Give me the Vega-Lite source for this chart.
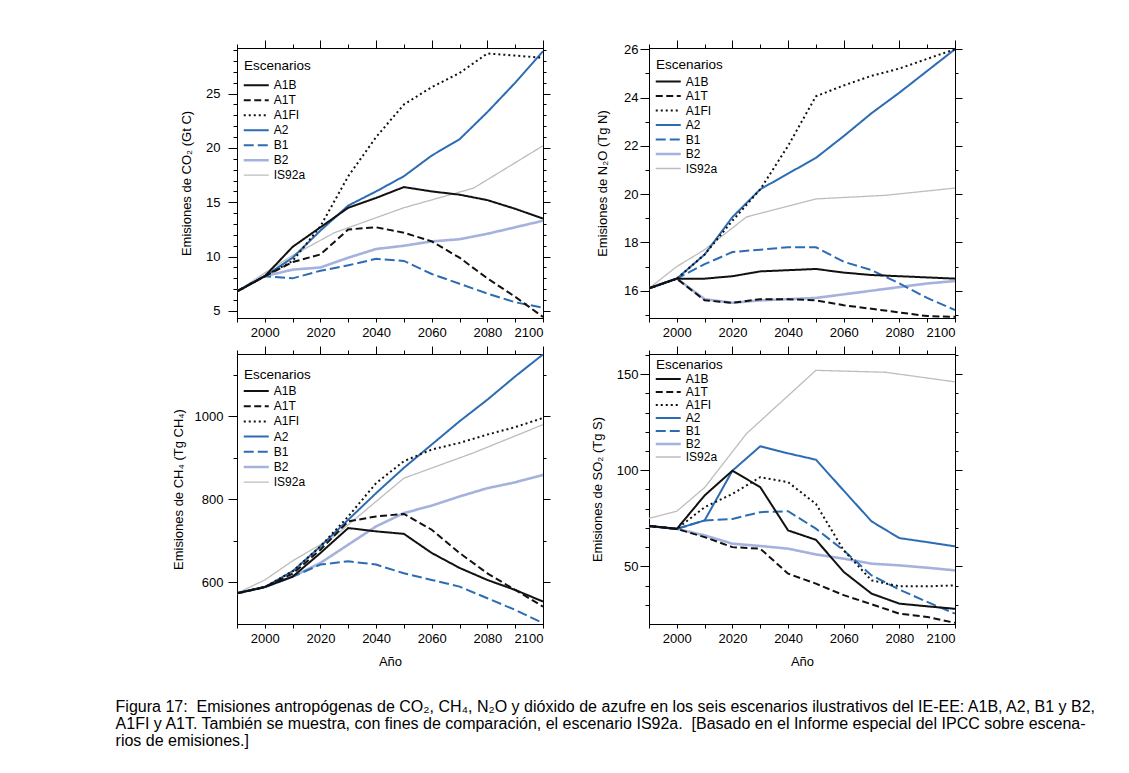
{
  "$schema": "https://vega.github.io/schema/vega-lite/v6.json",
  "background": "white",
  "padding": {"left": 115, "top": 39, "right": 5, "bottom": 5},
  "datasets": {
    "co2": [
      {"year":1990,"scenario":"IS92a","value":6.8},{"year":2000,"scenario":"IS92a","value":8.5},{"year":2010,"scenario":"IS92a","value":10.1},{"year":2025,"scenario":"IS92a","value":12.2},{"year":2050,"scenario":"IS92a","value":14.5},{"year":2075,"scenario":"IS92a","value":16.3},{"year":2100,"scenario":"IS92a","value":20.2},
      {"year":1990,"scenario":"B2","value":6.8},{"year":2000,"scenario":"B2","value":8.2},{"year":2010,"scenario":"B2","value":8.8},{"year":2020,"scenario":"B2","value":9.0},{"year":2030,"scenario":"B2","value":9.9},{"year":2040,"scenario":"B2","value":10.7},{"year":2050,"scenario":"B2","value":11.0},{"year":2060,"scenario":"B2","value":11.4},{"year":2070,"scenario":"B2","value":11.6},{"year":2080,"scenario":"B2","value":12.1},{"year":2090,"scenario":"B2","value":12.7},{"year":2100,"scenario":"B2","value":13.3},
      {"year":1990,"scenario":"B1","value":6.8},{"year":2000,"scenario":"B1","value":8.2},{"year":2010,"scenario":"B1","value":8.0},{"year":2020,"scenario":"B1","value":8.7},{"year":2030,"scenario":"B1","value":9.2},{"year":2040,"scenario":"B1","value":9.8},{"year":2050,"scenario":"B1","value":9.6},{"year":2060,"scenario":"B1","value":8.4},{"year":2070,"scenario":"B1","value":7.5},{"year":2080,"scenario":"B1","value":6.6},{"year":2090,"scenario":"B1","value":5.8},{"year":2100,"scenario":"B1","value":5.3},
      {"year":1990,"scenario":"A2","value":6.8},{"year":2000,"scenario":"A2","value":8.2},{"year":2010,"scenario":"A2","value":9.9},{"year":2020,"scenario":"A2","value":12.4},{"year":2030,"scenario":"A2","value":14.7},{"year":2040,"scenario":"A2","value":16.0},{"year":2050,"scenario":"A2","value":17.4},{"year":2060,"scenario":"A2","value":19.3},{"year":2070,"scenario":"A2","value":20.8},{"year":2080,"scenario":"A2","value":23.3},{"year":2090,"scenario":"A2","value":26.0},{"year":2100,"scenario":"A2","value":28.9},
      {"year":1990,"scenario":"A1FI","value":6.8},{"year":2000,"scenario":"A1FI","value":8.2},{"year":2010,"scenario":"A1FI","value":9.6},{"year":2020,"scenario":"A1FI","value":12.8},{"year":2030,"scenario":"A1FI","value":17.4},{"year":2040,"scenario":"A1FI","value":21.0},{"year":2050,"scenario":"A1FI","value":24.0},{"year":2060,"scenario":"A1FI","value":25.6},{"year":2070,"scenario":"A1FI","value":26.9},{"year":2080,"scenario":"A1FI","value":28.7},{"year":2090,"scenario":"A1FI","value":28.5},{"year":2100,"scenario":"A1FI","value":28.3},
      {"year":1990,"scenario":"A1T","value":6.8},{"year":2000,"scenario":"A1T","value":8.2},{"year":2010,"scenario":"A1T","value":9.5},{"year":2020,"scenario":"A1T","value":10.2},{"year":2030,"scenario":"A1T","value":12.5},{"year":2040,"scenario":"A1T","value":12.7},{"year":2050,"scenario":"A1T","value":12.2},{"year":2060,"scenario":"A1T","value":11.4},{"year":2070,"scenario":"A1T","value":9.9},{"year":2080,"scenario":"A1T","value":8.0},{"year":2090,"scenario":"A1T","value":6.3},{"year":2100,"scenario":"A1T","value":4.45},
      {"year":1990,"scenario":"A1B","value":6.8},{"year":2000,"scenario":"A1B","value":8.2},{"year":2010,"scenario":"A1B","value":10.9},{"year":2020,"scenario":"A1B","value":12.7},{"year":2030,"scenario":"A1B","value":14.5},{"year":2040,"scenario":"A1B","value":15.4},{"year":2050,"scenario":"A1B","value":16.4},{"year":2060,"scenario":"A1B","value":16.0},{"year":2070,"scenario":"A1B","value":15.7},{"year":2080,"scenario":"A1B","value":15.2},{"year":2090,"scenario":"A1B","value":14.4},{"year":2100,"scenario":"A1B","value":13.5}
    ],
    "n2o": [
      {"year":1990,"scenario":"IS92a","value":16.1},{"year":2000,"scenario":"IS92a","value":17.0},{"year":2010,"scenario":"IS92a","value":17.7},{"year":2025,"scenario":"IS92a","value":19.05},{"year":2050,"scenario":"IS92a","value":19.8},{"year":2075,"scenario":"IS92a","value":19.95},{"year":2100,"scenario":"IS92a","value":20.25},
      {"year":1990,"scenario":"B2","value":16.1},{"year":2000,"scenario":"B2","value":16.5},{"year":2010,"scenario":"B2","value":15.65},{"year":2020,"scenario":"B2","value":15.5},{"year":2030,"scenario":"B2","value":15.6},{"year":2040,"scenario":"B2","value":15.65},{"year":2050,"scenario":"B2","value":15.7},{"year":2060,"scenario":"B2","value":15.85},{"year":2070,"scenario":"B2","value":16.0},{"year":2080,"scenario":"B2","value":16.15},{"year":2090,"scenario":"B2","value":16.3},{"year":2100,"scenario":"B2","value":16.4},
      {"year":1990,"scenario":"B1","value":16.1},{"year":2000,"scenario":"B1","value":16.5},{"year":2010,"scenario":"B1","value":17.1},{"year":2020,"scenario":"B1","value":17.6},{"year":2030,"scenario":"B1","value":17.7},{"year":2040,"scenario":"B1","value":17.8},{"year":2050,"scenario":"B1","value":17.8},{"year":2060,"scenario":"B1","value":17.2},{"year":2070,"scenario":"B1","value":16.85},{"year":2080,"scenario":"B1","value":16.3},{"year":2090,"scenario":"B1","value":15.7},{"year":2100,"scenario":"B1","value":15.2},
      {"year":1990,"scenario":"A2","value":16.1},{"year":2000,"scenario":"A2","value":16.5},{"year":2010,"scenario":"A2","value":17.5},{"year":2020,"scenario":"A2","value":19.05},{"year":2030,"scenario":"A2","value":20.2},{"year":2040,"scenario":"A2","value":20.85},{"year":2050,"scenario":"A2","value":21.5},{"year":2060,"scenario":"A2","value":22.4},{"year":2070,"scenario":"A2","value":23.35},{"year":2080,"scenario":"A2","value":24.2},{"year":2090,"scenario":"A2","value":25.1},{"year":2100,"scenario":"A2","value":26.0},
      {"year":1990,"scenario":"A1FI","value":16.1},{"year":2000,"scenario":"A1FI","value":16.5},{"year":2010,"scenario":"A1FI","value":17.5},{"year":2020,"scenario":"A1FI","value":18.9},{"year":2030,"scenario":"A1FI","value":20.2},{"year":2040,"scenario":"A1FI","value":22.0},{"year":2050,"scenario":"A1FI","value":24.05},{"year":2060,"scenario":"A1FI","value":24.5},{"year":2070,"scenario":"A1FI","value":24.9},{"year":2080,"scenario":"A1FI","value":25.2},{"year":2090,"scenario":"A1FI","value":25.6},{"year":2100,"scenario":"A1FI","value":26.0},
      {"year":1990,"scenario":"A1T","value":16.1},{"year":2000,"scenario":"A1T","value":16.5},{"year":2010,"scenario":"A1T","value":15.6},{"year":2020,"scenario":"A1T","value":15.5},{"year":2030,"scenario":"A1T","value":15.65},{"year":2040,"scenario":"A1T","value":15.65},{"year":2050,"scenario":"A1T","value":15.6},{"year":2060,"scenario":"A1T","value":15.4},{"year":2070,"scenario":"A1T","value":15.25},{"year":2080,"scenario":"A1T","value":15.1},{"year":2090,"scenario":"A1T","value":14.95},{"year":2100,"scenario":"A1T","value":14.92},
      {"year":1990,"scenario":"A1B","value":16.1},{"year":2000,"scenario":"A1B","value":16.5},{"year":2010,"scenario":"A1B","value":16.5},{"year":2020,"scenario":"A1B","value":16.6},{"year":2030,"scenario":"A1B","value":16.8},{"year":2040,"scenario":"A1B","value":16.85},{"year":2050,"scenario":"A1B","value":16.9},{"year":2060,"scenario":"A1B","value":16.75},{"year":2070,"scenario":"A1B","value":16.65},{"year":2080,"scenario":"A1B","value":16.6},{"year":2090,"scenario":"A1B","value":16.55},{"year":2100,"scenario":"A1B","value":16.5}
    ],
    "ch4": [
      {"year":1990,"scenario":"IS92a","value":574},{"year":2000,"scenario":"IS92a","value":606},{"year":2010,"scenario":"IS92a","value":652},{"year":2025,"scenario":"IS92a","value":711},{"year":2050,"scenario":"IS92a","value":851},{"year":2075,"scenario":"IS92a","value":912},{"year":2100,"scenario":"IS92a","value":980},
      {"year":1990,"scenario":"B2","value":574},{"year":2000,"scenario":"B2","value":589},{"year":2010,"scenario":"B2","value":614},{"year":2020,"scenario":"B2","value":647},{"year":2030,"scenario":"B2","value":691},{"year":2040,"scenario":"B2","value":735},{"year":2050,"scenario":"B2","value":767},{"year":2060,"scenario":"B2","value":785},{"year":2070,"scenario":"B2","value":807},{"year":2080,"scenario":"B2","value":827},{"year":2090,"scenario":"B2","value":841},{"year":2100,"scenario":"B2","value":859},
      {"year":1990,"scenario":"B1","value":574},{"year":2000,"scenario":"B1","value":589},{"year":2010,"scenario":"B1","value":614},{"year":2020,"scenario":"B1","value":643},{"year":2030,"scenario":"B1","value":651},{"year":2040,"scenario":"B1","value":643},{"year":2050,"scenario":"B1","value":622},{"year":2060,"scenario":"B1","value":606},{"year":2070,"scenario":"B1","value":590},{"year":2080,"scenario":"B1","value":562},{"year":2090,"scenario":"B1","value":534},{"year":2100,"scenario":"B1","value":502},
      {"year":1990,"scenario":"A2","value":574},{"year":2000,"scenario":"A2","value":589},{"year":2010,"scenario":"A2","value":627},{"year":2020,"scenario":"A2","value":687},{"year":2030,"scenario":"A2","value":751},{"year":2040,"scenario":"A2","value":815},{"year":2050,"scenario":"A2","value":876},{"year":2060,"scenario":"A2","value":932},{"year":2070,"scenario":"A2","value":988},{"year":2080,"scenario":"A2","value":1040},{"year":2090,"scenario":"A2","value":1096},{"year":2100,"scenario":"A2","value":1149},
      {"year":1990,"scenario":"A1FI","value":574},{"year":2000,"scenario":"A1FI","value":589},{"year":2010,"scenario":"A1FI","value":627},{"year":2020,"scenario":"A1FI","value":687},{"year":2030,"scenario":"A1FI","value":759},{"year":2040,"scenario":"A1FI","value":839},{"year":2050,"scenario":"A1FI","value":892},{"year":2060,"scenario":"A1FI","value":920},{"year":2070,"scenario":"A1FI","value":936},{"year":2080,"scenario":"A1FI","value":956},{"year":2090,"scenario":"A1FI","value":974},{"year":2100,"scenario":"A1FI","value":996},
      {"year":1990,"scenario":"A1T","value":574},{"year":2000,"scenario":"A1T","value":589},{"year":2010,"scenario":"A1T","value":621},{"year":2020,"scenario":"A1T","value":679},{"year":2030,"scenario":"A1T","value":747},{"year":2040,"scenario":"A1T","value":759},{"year":2050,"scenario":"A1T","value":765},{"year":2060,"scenario":"A1T","value":727},{"year":2070,"scenario":"A1T","value":671},{"year":2080,"scenario":"A1T","value":622},{"year":2090,"scenario":"A1T","value":582},{"year":2100,"scenario":"A1T","value":542},
      {"year":1990,"scenario":"A1B","value":574},{"year":2000,"scenario":"A1B","value":589},{"year":2010,"scenario":"A1B","value":614},{"year":2020,"scenario":"A1B","value":671},{"year":2030,"scenario":"A1B","value":731},{"year":2040,"scenario":"A1B","value":723},{"year":2050,"scenario":"A1B","value":717},{"year":2060,"scenario":"A1B","value":671},{"year":2070,"scenario":"A1B","value":635},{"year":2080,"scenario":"A1B","value":606},{"year":2090,"scenario":"A1B","value":582},{"year":2100,"scenario":"A1B","value":554}
    ],
    "so2": [
      {"year":1990,"scenario":"IS92a","value":75},{"year":2000,"scenario":"IS92a","value":78.7},{"year":2010,"scenario":"IS92a","value":91},{"year":2025,"scenario":"IS92a","value":119},{"year":2050,"scenario":"IS92a","value":152},{"year":2075,"scenario":"IS92a","value":151},{"year":2100,"scenario":"IS92a","value":146},
      {"year":1990,"scenario":"B2","value":71},{"year":2000,"scenario":"B2","value":69.5},{"year":2010,"scenario":"B2","value":66.1},{"year":2020,"scenario":"B2","value":61.8},{"year":2030,"scenario":"B2","value":60.6},{"year":2040,"scenario":"B2","value":59.2},{"year":2050,"scenario":"B2","value":56.2},{"year":2060,"scenario":"B2","value":54.0},{"year":2070,"scenario":"B2","value":51.4},{"year":2080,"scenario":"B2","value":50.5},{"year":2090,"scenario":"B2","value":49.3},{"year":2100,"scenario":"B2","value":47.9},
      {"year":1990,"scenario":"B1","value":71},{"year":2000,"scenario":"B1","value":69.5},{"year":2010,"scenario":"B1","value":73.9},{"year":2020,"scenario":"B1","value":74.7},{"year":2030,"scenario":"B1","value":78.2},{"year":2040,"scenario":"B1","value":78.7},{"year":2050,"scenario":"B1","value":69.6},{"year":2060,"scenario":"B1","value":58.3},{"year":2070,"scenario":"B1","value":45.3},{"year":2080,"scenario":"B1","value":37.9},{"year":2090,"scenario":"B1","value":31.5},{"year":2100,"scenario":"B1","value":25.4},
      {"year":1990,"scenario":"A2","value":71},{"year":2000,"scenario":"A2","value":69.5},{"year":2010,"scenario":"A2","value":73.9},{"year":2020,"scenario":"A2","value":99.8},{"year":2030,"scenario":"A2","value":112.5},{"year":2040,"scenario":"A2","value":108.8},{"year":2050,"scenario":"A2","value":105.5},{"year":2060,"scenario":"A2","value":89.4},{"year":2070,"scenario":"A2","value":73.4},{"year":2080,"scenario":"A2","value":64.7},{"year":2090,"scenario":"A2","value":62.6},{"year":2100,"scenario":"A2","value":60.4},
      {"year":1990,"scenario":"A1FI","value":71},{"year":2000,"scenario":"A1FI","value":69.5},{"year":2010,"scenario":"A1FI","value":80.8},{"year":2020,"scenario":"A1FI","value":87.7},{"year":2030,"scenario":"A1FI","value":96.4},{"year":2040,"scenario":"A1FI","value":93.8},{"year":2050,"scenario":"A1FI","value":82.5},{"year":2060,"scenario":"A1FI","value":58.3},{"year":2070,"scenario":"A1FI","value":42.7},{"year":2080,"scenario":"A1FI","value":39.6},{"year":2090,"scenario":"A1FI","value":39.6},{"year":2100,"scenario":"A1FI","value":40.1},
      {"year":1990,"scenario":"A1T","value":71},{"year":2000,"scenario":"A1T","value":69.5},{"year":2010,"scenario":"A1T","value":65.2},{"year":2020,"scenario":"A1T","value":60.0},{"year":2030,"scenario":"A1T","value":59.2},{"year":2040,"scenario":"A1T","value":46.2},{"year":2050,"scenario":"A1T","value":41.0},{"year":2060,"scenario":"A1T","value":35.0},{"year":2070,"scenario":"A1T","value":30.3},{"year":2080,"scenario":"A1T","value":25.4},{"year":2090,"scenario":"A1T","value":23.7},{"year":2100,"scenario":"A1T","value":20.6},
      {"year":1990,"scenario":"A1B","value":71},{"year":2000,"scenario":"A1B","value":69.5},{"year":2010,"scenario":"A1B","value":86.9},{"year":2020,"scenario":"A1B","value":99.8},{"year":2030,"scenario":"A1B","value":91.2},{"year":2040,"scenario":"A1B","value":68.7},{"year":2050,"scenario":"A1B","value":63.8},{"year":2060,"scenario":"A1B","value":47.1},{"year":2070,"scenario":"A1B","value":35.8},{"year":2080,"scenario":"A1B","value":30.6},{"year":2090,"scenario":"A1B","value":29.2},{"year":2100,"scenario":"A1B","value":27.9}
    ]
  },
  "title": {
    "text": [
      "Figura 17:\u00a0 Emisiones antropógenas de CO₂, CH₄, N₂O y dióxido de azufre en los seis escenarios ilustrativos del IE-EE: A1B, A2, B1 y B2,",
      "A1FI y A1T. También se muestra, con fines de comparación, el escenario IS92a.\u00a0 [Basado en el Informe especial del IPCC sobre escena-",
      "rios de emisiones.]"
    ],
    "orient": "bottom",
    "anchor": "start",
    "font": "Liberation Sans Narrow, Liberation Sans",
    "fontSize": 16,
    "fontWeight": "normal",
    "lineHeight": 17,
    "offset": 30,
    "dx": -56,
    "color": "black"
  },
  "columns": 2,
  "spacing": {"row": 36, "column": 106},
  "bounds": "flush",
  "resolve": {
    "scale": {"x": "independent", "y": "independent", "color": "independent", "strokeDash": "independent"},
    "legend": {"color": "independent", "strokeDash": "independent"}
  },
  "concat": [
    {
      "width": 306, "height": 270,
      "data": {"name": "co2"},
      "layer": [
        {
          "mark": {"type": "line", "clip": true},
          "encoding": {
            "x": {"field": "year", "type": "quantitative", "scale": {"domain": [1990, 2100], "nice": false, "zero": false},
              "axis": {"orient": "bottom", "title": null, "values": [1990,2000,2010,2020,2030,2040,2050,2060,2070,2080,2090,2100], "format": "d", "labelExpr": "datum.value % 20 == 0 ? datum.label : ''", "tickSize": 4, "labelPadding": 4}},
            "y": {"field": "value", "type": "quantitative", "scale": {"domain": [4.35, 29.2], "nice": false, "zero": false},
              "axis": {"orient": "left", "title": "Emisiones de CO₂ (Gt C)", "format": "d", "values": [5,6,7,8,9,10,11,12,13,14,15,16,17,18,19,20,21,22,23,24,25,26,27,28,29], "labelExpr": "datum.value % 5 == 0 ? datum.label : ''", "tickSize": {"condition": {"test": "datum.value % 5 == 0", "value": 9}, "value": 4}, "labelPadding": 8, "titlePadding": 12}},
            "color": {"field": "scenario", "type": "nominal",
              "scale": {"domain": ["A1B","A1T","A1FI","A2","B1","B2","IS92a"], "range": ["#111111","#111111","#111111","#2c6cb3","#2c6cb3","#a5b2dd","#bdbdbd"]},
              "legend": {"orient": "none", "legendX": 7, "legendY": 11.2, "title": "Escenarios", "symbolType": "M-2,0H2", "symbolSize": 156.25, "symbolOffset": 6.25, "labelOffset": 11.5, "rowPadding": 3, "titlePadding": 6.5, "padding": 0,
                "encode": {"symbols": {"update": {"strokeWidth": {"signal": "datum.value === 'IS92a' ? 1.3 : datum.value === 'B2' ? 2.6 : 2"}}}}}},
            "strokeDash": {"field": "scenario", "type": "nominal",
              "scale": {"domain": ["A1B","A1T","A1FI","A2","B1","B2","IS92a"], "range": [[1,0],[7,3.5],[2,3],[1,0],[10,4],[1,0],[1,0]]},
              "legend": {"orient": "none", "legendX": 7, "legendY": 11.2, "title": "Escenarios", "symbolType": "M-2,0H2", "symbolSize": 156.25, "symbolOffset": 6.25, "labelOffset": 11.5, "rowPadding": 3, "titlePadding": 6.5, "padding": 0}},
            "strokeWidth": {"condition": [{"test": "datum.scenario === 'IS92a'", "value": 1.3}, {"test": "datum.scenario === 'B2'", "value": 2.6}], "value": 2}
          }
        },
        {
          "mark": {"type": "point", "opacity": 0},
          "encoding": {
            "x": {"field": "year", "type": "quantitative", "axis": {"orient": "top", "title": null, "labels": false, "values": [1990,2000,2010,2020,2030,2040,2050,2060,2070,2080,2090,2100], "tickSize": {"condition": {"test": "datum.value % 20 == 0", "value": 8}, "value": 4}}},
            "y": {"field": "value", "type": "quantitative", "axis": {"orient": "right", "title": null, "labels": false, "values": [5,6,7,8,9,10,11,12,13,14,15,16,17,18,19,20,21,22,23,24,25,26,27,28,29], "tickSize": {"condition": {"test": "datum.value % 5 == 0", "value": 7}, "value": 3}}}
          }
        }
      ],
      "resolve": {"axis": {"x": "independent", "y": "independent"}}
    },
    {
      "width": 306, "height": 270,
      "data": {"name": "n2o"},
      "layer": [
        {
          "mark": {"type": "line", "clip": true},
          "encoding": {
            "x": {"field": "year", "type": "quantitative", "scale": {"domain": [1990, 2100], "nice": false, "zero": false},
              "axis": {"orient": "bottom", "title": null, "values": [1990,2000,2010,2020,2030,2040,2050,2060,2070,2080,2090,2100], "format": "d", "labelExpr": "datum.value % 20 == 0 ? datum.label : ''", "tickSize": 4, "labelPadding": 4}},
            "y": {"field": "value", "type": "quantitative", "scale": {"domain": [14.87, 26.05], "nice": false, "zero": false},
              "axis": {"orient": "left", "title": "Emisiones de N₂O (Tg N)", "format": "d", "values": [15,16,17,18,19,20,21,22,23,24,25,26], "labelExpr": "datum.value % 2 == 0 ? datum.label : ''", "tickSize": {"condition": {"test": "datum.value % 2 == 0", "value": 9}, "value": 4}, "labelPadding": 2, "titlePadding": 14}},
            "color": {"field": "scenario", "type": "nominal",
              "scale": {"domain": ["A1B","A1T","A1FI","A2","B1","B2","IS92a"], "range": ["#111111","#111111","#111111","#2c6cb3","#2c6cb3","#a5b2dd","#bdbdbd"]},
              "legend": {"orient": "none", "legendX": 7, "legendY": 9.5, "title": "Escenarios", "symbolType": "M-2,0H2", "symbolSize": 156.25, "symbolOffset": 6.25, "labelOffset": 11.5, "rowPadding": 2.5, "titlePadding": 4.5, "padding": 0,
                "encode": {"symbols": {"update": {"strokeWidth": {"signal": "datum.value === 'IS92a' ? 1.3 : datum.value === 'B2' ? 2.6 : 2"}}}}}},
            "strokeDash": {"field": "scenario", "type": "nominal",
              "scale": {"domain": ["A1B","A1T","A1FI","A2","B1","B2","IS92a"], "range": [[1,0],[7,3.5],[2,3],[1,0],[10,4],[1,0],[1,0]]},
              "legend": {"orient": "none", "legendX": 7, "legendY": 9.5, "title": "Escenarios", "symbolType": "M-2,0H2", "symbolSize": 156.25, "symbolOffset": 6.25, "labelOffset": 11.5, "rowPadding": 2.5, "titlePadding": 4.5, "padding": 0}},
            "strokeWidth": {"condition": [{"test": "datum.scenario === 'IS92a'", "value": 1.3}, {"test": "datum.scenario === 'B2'", "value": 2.6}], "value": 2}
          }
        },
        {
          "mark": {"type": "point", "opacity": 0},
          "encoding": {
            "x": {"field": "year", "type": "quantitative", "axis": {"orient": "top", "title": null, "labels": false, "values": [1990,2000,2010,2020,2030,2040,2050,2060,2070,2080,2090,2100], "tickSize": {"condition": {"test": "datum.value % 20 == 0", "value": 8}, "value": 4}}},
            "y": {"field": "value", "type": "quantitative", "axis": {"orient": "right", "title": null, "labels": false, "values": [15,16,17,18,19,20,21,22,23,24,25,26], "tickSize": {"condition": {"test": "datum.value % 2 == 0", "value": 7}, "value": 3}}}
          }
        }
      ],
      "resolve": {"axis": {"x": "independent", "y": "independent"}}
    },
    {
      "width": 306, "height": 270,
      "data": {"name": "ch4"},
      "layer": [
        {
          "mark": {"type": "line", "clip": true},
          "encoding": {
            "x": {"field": "year", "type": "quantitative", "scale": {"domain": [1990, 2100], "nice": false, "zero": false},
              "axis": {"orient": "bottom", "title": "Año", "titlePadding": 10, "values": [1990,2000,2010,2020,2030,2040,2050,2060,2070,2080,2090,2100], "format": "d", "labelExpr": "datum.value % 20 == 0 ? datum.label : ''", "tickSize": 4, "labelPadding": 4}},
            "y": {"field": "value", "type": "quantitative", "scale": {"domain": [500, 1150], "nice": false, "zero": false},
              "axis": {"orient": "left", "title": "Emisiones de CH₄ (Tg CH₄)", "format": "d", "values": [600,700,800,900,1000,1100], "labelExpr": "datum.value % 200 == 0 ? datum.label : ''", "tickSize": {"condition": {"test": "datum.value % 200 == 0", "value": 9}, "value": 4}, "labelPadding": 5, "titlePadding": 9}},
            "color": {"field": "scenario", "type": "nominal",
              "scale": {"domain": ["A1B","A1T","A1FI","A2","B1","B2","IS92a"], "range": ["#111111","#111111","#111111","#2c6cb3","#2c6cb3","#a5b2dd","#bdbdbd"]},
              "legend": {"orient": "none", "legendX": 7, "legendY": 13.5, "title": "Escenarios", "symbolType": "M-2,0H2", "symbolSize": 156.25, "symbolOffset": 6.25, "labelOffset": 11.5, "rowPadding": 3.2, "titlePadding": 4, "padding": 0,
                "encode": {"symbols": {"update": {"strokeWidth": {"signal": "datum.value === 'IS92a' ? 1.3 : datum.value === 'B2' ? 2.6 : 2"}}}}}},
            "strokeDash": {"field": "scenario", "type": "nominal",
              "scale": {"domain": ["A1B","A1T","A1FI","A2","B1","B2","IS92a"], "range": [[1,0],[7,3.5],[2,3],[1,0],[10,4],[1,0],[1,0]]},
              "legend": {"orient": "none", "legendX": 7, "legendY": 13.5, "title": "Escenarios", "symbolType": "M-2,0H2", "symbolSize": 156.25, "symbolOffset": 6.25, "labelOffset": 11.5, "rowPadding": 3.2, "titlePadding": 4, "padding": 0}},
            "strokeWidth": {"condition": [{"test": "datum.scenario === 'IS92a'", "value": 1.3}, {"test": "datum.scenario === 'B2'", "value": 2.6}], "value": 2}
          }
        },
        {
          "mark": {"type": "point", "opacity": 0},
          "encoding": {
            "x": {"field": "year", "type": "quantitative", "axis": {"orient": "top", "title": null, "labels": false, "values": [1990,2000,2010,2020,2030,2040,2050,2060,2070,2080,2090,2100], "tickSize": {"condition": {"test": "datum.value % 20 == 0", "value": 8}, "value": 4}}},
            "y": {"field": "value", "type": "quantitative", "axis": {"orient": "right", "title": null, "labels": false, "values": [600,700,800,900,1000,1100], "tickSize": {"condition": {"test": "datum.value % 200 == 0", "value": 7}, "value": 3}}}
          }
        }
      ],
      "resolve": {"axis": {"x": "independent", "y": "independent"}}
    },
    {
      "width": 306, "height": 270,
      "data": {"name": "so2"},
      "layer": [
        {
          "mark": {"type": "line", "clip": true},
          "encoding": {
            "x": {"field": "year", "type": "quantitative", "scale": {"domain": [1990, 2100], "nice": false, "zero": false},
              "axis": {"orient": "bottom", "title": "Año", "titlePadding": 10, "values": [1990,2000,2010,2020,2030,2040,2050,2060,2070,2080,2090,2100], "format": "d", "labelExpr": "datum.value % 20 == 0 ? datum.label : ''", "tickSize": 4, "labelPadding": 4}},
            "y": {"field": "value", "type": "quantitative", "scale": {"domain": [20, 160.5], "nice": false, "zero": false},
              "axis": {"orient": "left", "title": "Emisiones de SO₂ (Tg S)", "format": "d", "values": [30,40,50,60,70,80,90,100,110,120,130,140,150,160], "labelExpr": "datum.value % 50 == 0 ? datum.label : ''", "tickSize": {"condition": {"test": "datum.value % 50 == 0", "value": 9}, "value": 4}, "labelPadding": 2, "titlePadding": 12}},
            "color": {"field": "scenario", "type": "nominal",
              "scale": {"domain": ["A1B","A1T","A1FI","A2","B1","B2","IS92a"], "range": ["#111111","#111111","#111111","#2c6cb3","#2c6cb3","#a5b2dd","#bdbdbd"]},
              "legend": {"orient": "none", "legendX": 7, "legendY": 3.5, "title": "Escenarios", "symbolType": "M-2,0H2", "symbolSize": 156.25, "symbolOffset": 6.25, "labelOffset": 11.5, "rowPadding": 1, "titlePadding": 2, "padding": 0,
                "encode": {"symbols": {"update": {"strokeWidth": {"signal": "datum.value === 'IS92a' ? 1.3 : datum.value === 'B2' ? 2.6 : 2"}}}}}},
            "strokeDash": {"field": "scenario", "type": "nominal",
              "scale": {"domain": ["A1B","A1T","A1FI","A2","B1","B2","IS92a"], "range": [[1,0],[7,3.5],[2,3],[1,0],[10,4],[1,0],[1,0]]},
              "legend": {"orient": "none", "legendX": 7, "legendY": 3.5, "title": "Escenarios", "symbolType": "M-2,0H2", "symbolSize": 156.25, "symbolOffset": 6.25, "labelOffset": 11.5, "rowPadding": 1, "titlePadding": 2, "padding": 0}},
            "strokeWidth": {"condition": [{"test": "datum.scenario === 'IS92a'", "value": 1.3}, {"test": "datum.scenario === 'B2'", "value": 2.6}], "value": 2}
          }
        },
        {
          "mark": {"type": "point", "opacity": 0},
          "encoding": {
            "x": {"field": "year", "type": "quantitative", "axis": {"orient": "top", "title": null, "labels": false, "values": [1990,2000,2010,2020,2030,2040,2050,2060,2070,2080,2090,2100], "tickSize": {"condition": {"test": "datum.value % 20 == 0", "value": 8}, "value": 4}}},
            "y": {"field": "value", "type": "quantitative", "axis": {"orient": "right", "title": null, "labels": false, "values": [30,40,50,60,70,80,90,100,110,120,130,140,150,160], "tickSize": {"condition": {"test": "datum.value % 50 == 0", "value": 7}, "value": 3}}}
          }
        }
      ],
      "resolve": {"axis": {"x": "independent", "y": "independent"}}
    }
  ],
  "config": {
    "font": "Liberation Sans",
    "view": {"stroke": "black", "strokeWidth": 1},
    "axis": {
      "grid": false, "domainColor": "black", "domainWidth": 1, "tickColor": "black", "tickWidth": 1,
      "labelFont": "Liberation Sans", "labelFontSize": 13, "labelColor": "black",
      "titleFont": "Liberation Sans", "titleFontSize": 13, "titleFontWeight": "normal", "titleColor": "black"
    },
    "legend": {
      "labelFont": "Liberation Sans", "labelFontSize": 12, "labelColor": "black",
      "titleFont": "Liberation Sans", "titleFontSize": 13.5, "titleFontWeight": "normal", "titleColor": "black"
    }
  }
}
